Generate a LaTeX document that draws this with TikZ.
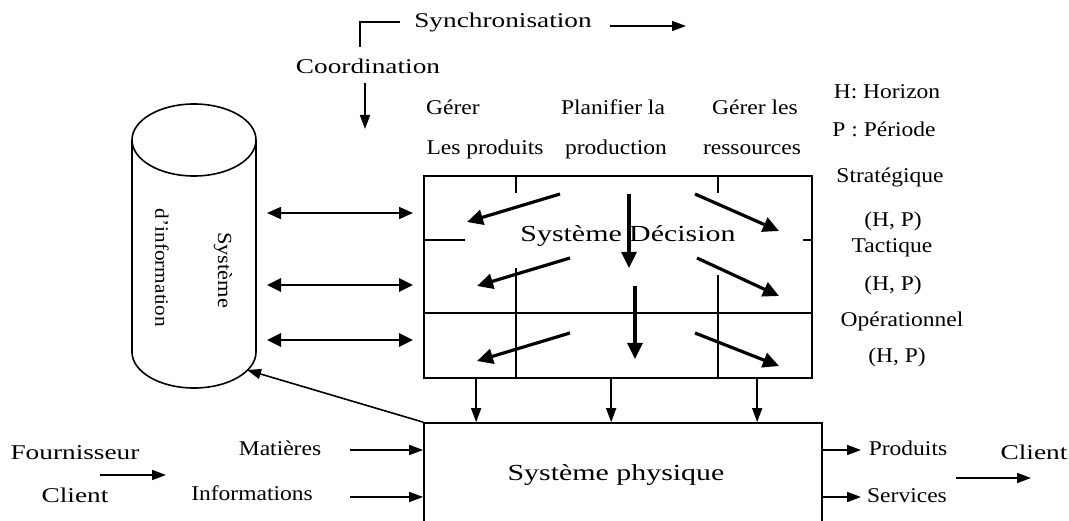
\documentclass[tikz,border=0pt]{standalone}
\usepackage{fontspec}
\setmainfont[FakeStretch=1.12]{Liberation Serif}
\newfontfamily\widefont[FakeStretch=1.3]{Liberation Serif}
\usetikzlibrary{arrows.meta}
\begin{document}
\begin{tikzpicture}[x=1pt,y=-1pt,
 txt/.style={inner sep=0pt, anchor=base, font=\fontsize{21}{25}\selectfont},
 wtxt/.style={inner sep=0pt, anchor=base, font=\widefont\fontsize{21}{25}\selectfont},
 bigtxt/.style={inner sep=0pt, anchor=base, font=\widefont\fontsize{23}{27}\selectfont},
 ln/.style={line width=1.6pt},
 tarr/.style={line width=1.6pt, -{Triangle[length=14pt,width=10pt]}},
 darr/.style={line width=1.6pt, {Triangle[length=14pt,width=12pt]}-{Triangle[length=14pt,width=12pt]}},
 dbarr/.style={line width=2.8pt, {Triangle[length=14pt,width=13pt]}-{Triangle[length=14pt,width=13pt]}},
 barr/.style={line width=3.2pt, -{Triangle[length=16pt,width=15pt]}},
 box/.style={draw, line width=1.7pt, inner sep=0pt, rectangle},
]
\useasboundingbox (0,0) rectangle (1069,521);
\clip (0,0) rectangle (1069,521);

% ---- top labels
\node[wtxt] (sync) at (503,28) {Synchronisation};
\node[wtxt] (coord) at (368,74) {Coordination};
\coordinate (b1) at (360,47);
\coordinate (b2) at (400,22);
\draw[ln] (b1) |- (b2);
\coordinate (s1) at (610,26);
\coordinate (s2) at (686,26);
\draw[tarr] (s1) -- (s2);
\coordinate (c1) at (365,83);
\coordinate (c2) at (365,129);
\draw[tarr] (c1) -- (c2);

\node[txt] (g1) at (453,115) {Gérer};
\node[txt] (g2) at (485,155) {Les produits};
\node[txt] (p1) at (613,115) {Planifier la};
\node[txt] (p2) at (616,155) {production};
\node[txt] (r1) at (755,115) {Gérer les};
\node[txt] (r2) at (752,155) {ressources};

% ---- right labels
\node[txt] (hh) at (887,99) {H: Horizon};
\node[txt] (pp) at (884,137) {P : Période};
\node[txt] (st) at (890,183) {Stratégique};
\node[txt] (hp1) at (893,227) {(H, P)};
\node[txt] (ta) at (892,253) {Tactique};
\node[txt] (hp2) at (893,291) {(H, P)};
\node[txt] (op) at (902,327) {Opérationnel};
\node[txt] (hp3) at (897,363) {(H, P)};

% ---- decision box
\node[box, minimum width=388pt, minimum height=202pt] (dec) at (618,277) {};
\node[bigtxt] (dect) at (628,242) {Système Décision};
\draw[ln] (424,313) -- (812,313);
\draw[ln] (424,240) -- (465,240);
\draw[ln] (803,240) -- (812,240);
\draw[ln] (516,176) -- (516,193);
\draw[ln] (718,176) -- (718,193);
\draw[ln] (516,268) -- (516,378);
\draw[ln] (718,275) -- (718,378);
% inner arrows
\draw[barr] (560,194) -- (467,222);
\draw[barr] (629,194) -- (629,268);
\draw[barr] (695,194) -- (779,231);
\draw[barr] (570,258) -- (477,286);
\draw[barr] (697,258) -- (779,296);
\draw[barr] (635,286) -- (635,359);
\draw[barr] (570,333) -- (477,361);
\draw[barr] (695,333) -- (779,366);

% ---- cylinder
\node[inner sep=0pt, minimum width=124pt, minimum height=284pt] (cyl) at (194,246) {};
\draw[ln] (194,140) ellipse [x radius=62pt, y radius=36pt];
\draw[ln] (132,140) -- (132,352) arc [start angle=180, end angle=360, x radius=62pt, y radius=36pt] -- (256,140);
\node[inner sep=0pt, rotate=-90, font=\fontsize{20}{24}\selectfont] (sys) at (223,270) {Système};
\node[inner sep=0pt, rotate=-90, font=\fontsize{19}{23}\selectfont] (dinf) at (162,268) {d’information};

% bidirectional arrows
\coordinate (l1) at (267,213); \coordinate (q1) at (413,213);
\coordinate (l2) at (267,285); \coordinate (q2) at (413,285);
\coordinate (l3) at (267,340); \coordinate (q3) at (413,340);
\draw[darr] (l1) -- (q1);
\draw[dbarr] (l2) -- (q2);
\draw[dbarr] (l3) -- (q3);

% ---- physical system
\node[box, minimum width=398pt, minimum height=200pt] (phys) at (623,523) {};
\node[bigtxt] (physt) at (616,480) {Système physique};

\draw[tarr] ([xshift=53pt]dec.south west) -- ([xshift=53pt]phys.north west);
\draw[tarr] ([xshift=188pt]dec.south west) -- ([xshift=188pt]phys.north west);
\draw[tarr] ([xshift=334pt]dec.south west) -- ([xshift=334pt]phys.north west);

\coordinate (cylpt) at (247,370);
\draw[tarr] (phys.north west) -- (cylpt);

% inputs
\node[txt] (mat) at (280,455) {Matières};
\node[txt] (inf) at (252,500) {Informations};
\coordinate (m0) at (350,450);
\coordinate (i0) at (350,497);
\draw[tarr] (m0) -- (m0 -| phys.west);
\draw[tarr] (i0) -- (i0 -| phys.west);

\node[wtxt] (four) at (75,459) {Fournisseur};
\node[wtxt] (cl1) at (75,502) {Client};
\coordinate (f1) at (100,475);
\coordinate (f2) at (166,475);
\draw[tarr] (f1) -- (f2);

% outputs
\node[txt] (prod) at (908,455) {Produits};
\node[txt] (serv) at (907,502) {Services};
\coordinate (o1) at (861,450);
\coordinate (o2) at (861,497);
\draw[tarr] (o1 -| phys.east) -- (o1);
\draw[tarr] (o2 -| phys.east) -- (o2);

\node[wtxt] (cl2) at (1034,459) {Client};
\coordinate (k1) at (956,478);
\coordinate (k2) at (1031,478);
\draw[tarr] (k1) -- (k2);
\end{tikzpicture}
\end{document}
